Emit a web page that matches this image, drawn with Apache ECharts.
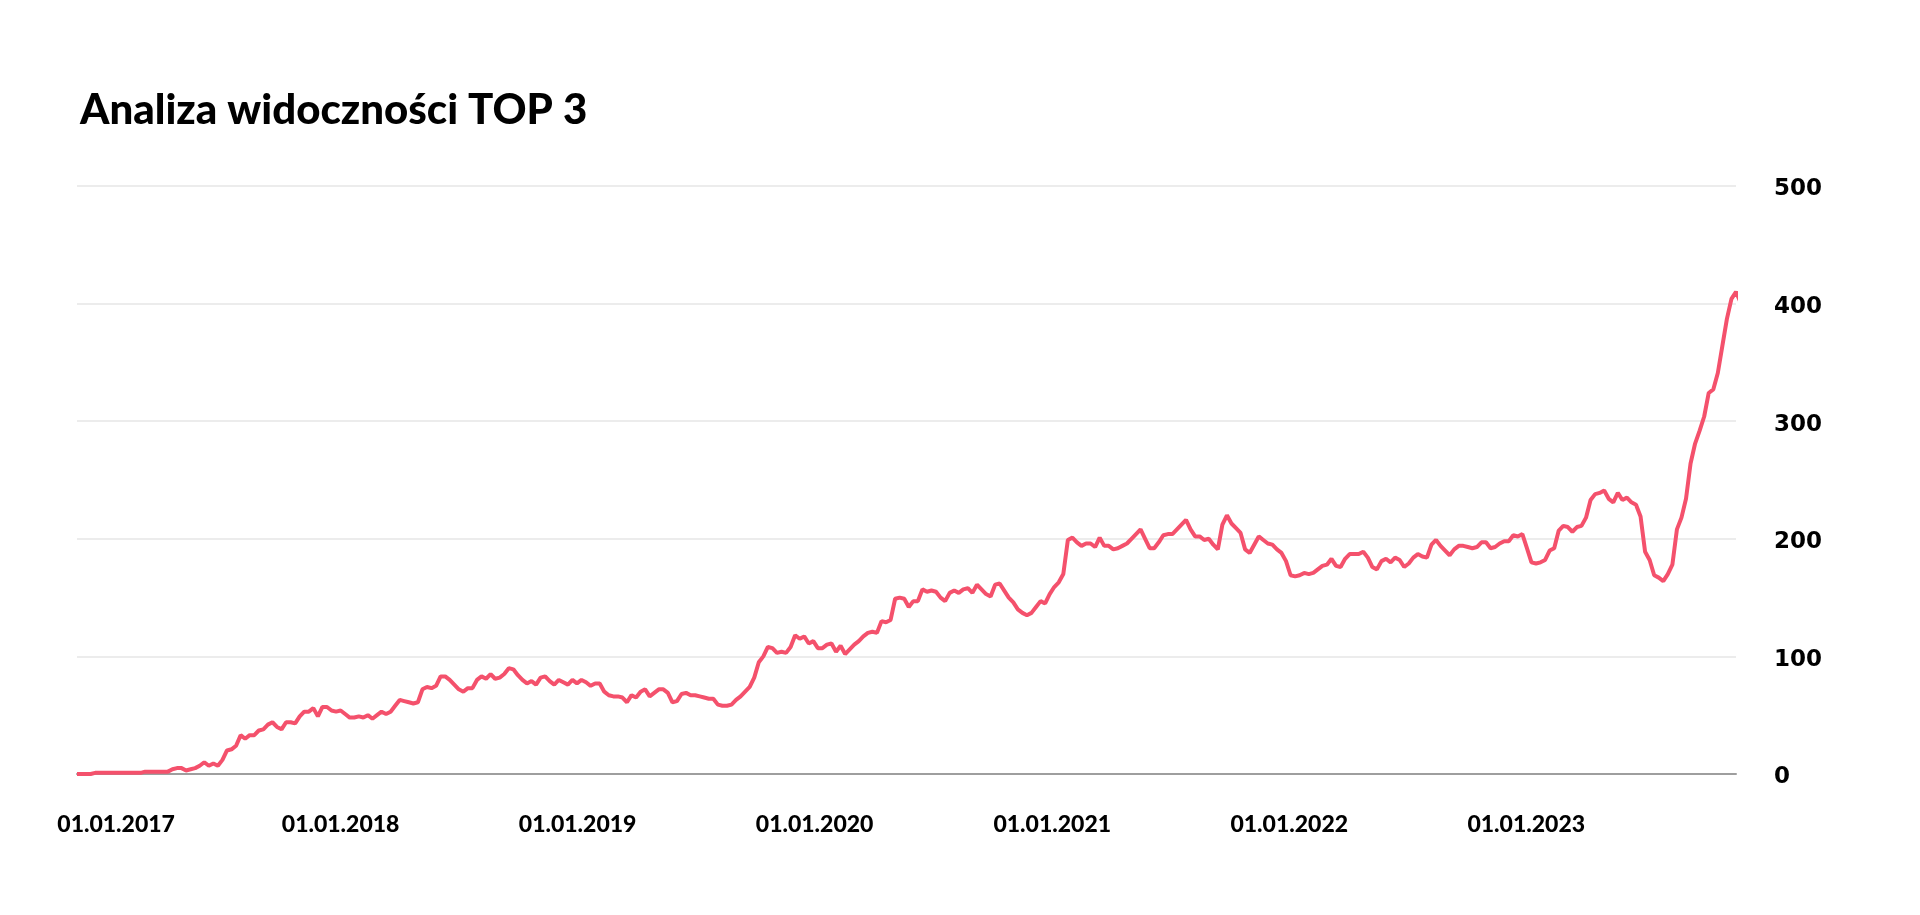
<!DOCTYPE html>
<html>
<head>
<meta charset="utf-8">
<title>Analiza widoczności TOP 3</title>
<script src="https://cdn.jsdelivr.net/npm/echarts@6/dist/echarts.min.js"></script>
<style>
  html, body { margin: 0; padding: 0; background: #fff; }
  #chart { width: 1920px; height: 915px; }
</style>
</head>
<body>
<div id="chart"></div>
<script>
// tygodniowe odczyty, pierwszy tydzień: 21.11.2016
var startYear = 2016, startMonth = 10, startDay = 21;

// 2016-11 .. 2018-04
var weeksA = [0,0,0,0,1,1,1,1,1,1,
  1,1,1,1,1,2,2,2,2,2,
  2,4,5,5,3,4,5,7,10,7,
  9,7,12,20,21,24,33,30,33,33,
  37,38,42,44,40,38,44,44,43,49,
  53,53,56,49,57,57,54,53,54,51,
  48,48,49,48,50,47,50,53,51,53,
  58,63,62,61];
// 2018-04 .. 2019-09
var weeksB = [60,61,72,74,73,75,83,83,80,76,
  72,70,73,73,80,83,81,85,81,82,
  85,90,89,84,80,77,79,76,82,83,
  79,76,80,78,76,80,77,80,78,75,
  77,77,70,67,66,66,65,61,67,65,
  70,72,66,69,72,72,69,61,62,68,
  69,67,67,66,65,64,64,59,58,58,
  59,63];
// 2019-09 .. 2021-02
var weeksC = [66,70,74,82,95,100,108,107,103,104,
  103,108,118,115,117,111,113,107,107,110,
  111,104,109,102,106,110,113,117,120,121,
  120,130,129,131,149,150,149,142,147,147,
  157,155,156,155,150,147,154,156,154,157,
  158,154,161,157,153,151,161,162,156,150,
  146,140,137,135,137,142,147,145,153,159,
  163,170,199];
// 2021-02 .. 2022-07
var weeksD = [201,197,194,196,196,193,201,194,194,191,
  192,194,196,200,204,208,200,192,192,197,
  203,204,204,208,212,216,208,202,202,199,
  200,195,191,212,220,213,209,205,191,188,
  195,202,199,196,195,191,188,181,169,168,
  169,171,170,171,174,177,178,183,177,176,
  183,187,187,187,189,184,176,174,181,183,
  180,184];
// 2022-07 .. 2023-11
var weeksE = [182,176,179,184,187,185,184,195,199,194,
  190,186,191,194,194,193,192,193,197,197,
  192,193,196,198,198,203,202,204,192,180,
  179,180,182,190,192,207,211,210,206,210,
  211,218,233,238,239,241,234,231,239,233,
  235,231,229,219,189,182,169,167,164,170,
  178,208,218,234,264,281,292,304,324,327,
  341,364,387,404,410,401];

var yTicks = [0, 100, 200, 300, 400, 500];

var values = [].concat(weeksA, weeksB, weeksC, weeksD, weeksE);
var seriesData = values.map(function (v, i) {
  return [new Date(startYear, startMonth, startDay + i * 7).getTime(), v];
});
var xMin = seriesData[0][0];
var xMax = new Date(startYear, startMonth, startDay + (values.length - 2) * 7).getTime();

function pad(n) { return n < 10 ? "0" + n : "" + n; }

var option = {
  backgroundColor: "#ffffff",
  animation: false,
  title: {
    text: "Analiza widoczności TOP 3",
    left: 75,
    top: 84,
    textStyle: {
      fontFamily: "Lato",
      fontWeight: 900,
      fontSize: 42,
      color: "#000"
    }
  },
  grid: {
    left: 77,
    right: 184,
    top: 186,
    bottom: 141,
    containLabel: false,
    outerBoundsMode: "none"
  },
  xAxis: {
    type: "time",
    min: xMin,
    max: xMax,
    splitNumber: 7,
    axisLine: { show: true, lineStyle: { color: "#9e9e9e", width: 2 } },
    axisTick: { show: false },
    splitLine: { show: false },
    axisLabel: {
      margin: 39,
      showMinLabel: false,
      showMaxLabel: false,
      hideOverlap: false,
      color: "#000",
      fontFamily: "Lato",
      fontWeight: 900,
      fontSize: 23,
      formatter: function (value) {
        var d = new Date(value);
        if (d.getMonth() !== 0 || d.getDate() !== 1) return "";
        var txt = pad(d.getDate()) + "." + pad(d.getMonth() + 1) + "." + d.getFullYear();
        if (d.getTime() < new Date(startYear + 1, 6, 1).getTime()) {
          return "{first|" + txt + "}";
        }
        return txt;
      },
      rich: {
        first: {
          padding: [0, 0, 0, 25],
          color: "#000",
          fontFamily: "Lato",
          fontWeight: 900,
          fontSize: 23
        }
      }
    }
  },
  yAxis: {
    type: "value",
    position: "right",
    min: yTicks[0],
    max: yTicks[yTicks.length - 1],
    interval: yTicks[1] - yTicks[0],
    axisLine: { show: false },
    axisTick: { show: false },
    splitLine: { show: true, lineStyle: { color: "#ececec", width: 2 } },
    axisLabel: {
      margin: 38,
      color: "#000",
      formatter: "{v|{value}}",
      rich: {
        v: {
          padding: [7, 0, 0, 0],
          color: "#000",
          fontFamily: "DejaVu Sans",
          fontWeight: "bold",
          fontSize: 23
        }
      }
    }
  },
  series: [
    {
      name: "TOP 3",
      type: "line",
      data: seriesData,
      showSymbol: false,
      symbol: "none",
      smooth: false,
      clip: false,
      lineStyle: { color: "#f4516c", width: 4 },
      itemStyle: { color: "#f4516c" }
    }
  ]
};

var myChart = echarts.init(document.getElementById("chart"));
myChart.setOption(option);
</script>
</body>
</html>
